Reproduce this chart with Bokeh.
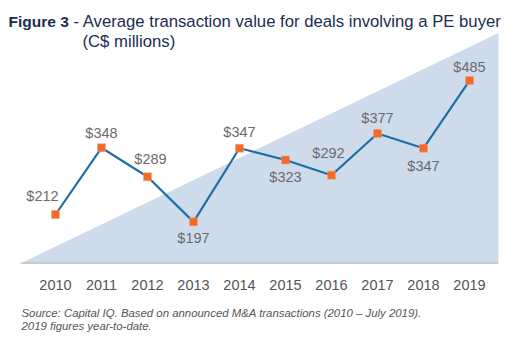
from bokeh.plotting import figure
from bokeh.models import Range1d, FixedTicker, Label, ColumnDataSource, Title
from bokeh.core.properties import value
from bokeh.embed import file_html
from bokeh.resources import INLINE

# ---- data ----
years = [2010, 2011, 2012, 2013, 2014, 2015, 2016, 2017, 2018, 2019]
avg_value = [212, 348, 289, 197, 347, 323, 292, 377, 347, 485]
tick_labels = ["2010", "2011", "2012", "2013", "2014", "2015", "2016", "2017", "2018", "2019"]
value_labels = ["$" + str(v) for v in avg_value]
# decorative background wedge corners (data space)
wedge_x = [2009.24, 2019.63, 2019.63]
wedge_y = [112.2, 582, 112.2]

# label placement (pixels, +dy = down)
label_dx = [-13, 0, 3, 0, 0, 0, -3, 0, 0, 0]
label_dy = [-19, -15, -18, 16, -16, 17, -22, -16, 18, -14]

# pixel <-> data calibration: frame spans the full width and top of canvas
W, H = 525, 351
FB = 263                      # frame bottom (axis line) in px
PX_PER_YEAR = 46.0
PX_PER_UNIT = 0.4908
X0 = 2010 - 55 / PX_PER_YEAR
X1 = X0 + W / PX_PER_YEAR
Y1 = 212 + 214 / PX_PER_UNIT
Y0 = Y1 - FB / PX_PER_UNIT

def dx(px):
    return X0 + px / PX_PER_YEAR

def dy(py):
    return Y1 - py / PX_PER_UNIT

p = figure(width=W, height=H, output_backend="svg", toolbar_location=None,
           x_range=Range1d(X0, X1), y_range=Range1d(Y0, Y1),
           min_border_left=0, min_border_right=0,
           min_border_top=0, min_border_bottom=H - FB)
p.outline_line_color = None
p.grid.visible = False
p.yaxis.visible = False
p.background_fill_color = "white"
p.border_fill_color = "white"

p.patch(wedge_x, wedge_y, fill_color="#cddbeb", line_color=None)
# baseline along the wedge's bottom edge
p.line([wedge_x[0], wedge_x[2]], [wedge_y[0], wedge_y[2]], line_color="#9a9a9a", line_width=1.3)

src = ColumnDataSource(dict(x=years, y=avg_value, lab=value_labels,
                            dxo=label_dx, dyo=label_dy))
p.line("x", "y", source=src, line_color="#1f6ea6", line_width=2.2)
p.scatter("x", "y", source=src, marker="square", size=8,
          fill_color="#f26a2a", line_color="#f7a072", line_width=0.5)
p.text("x", "y", text="lab", source=src, x_offset="dxo", y_offset="dyo",
       text_align="center", text_baseline="middle", text_font_size="14.5px",
       text_color="#6b6b6b", text_font=value("Liberation Sans"))

ax = p.xaxis[0]
ax.ticker = FixedTicker(ticks=years)
ax.major_label_overrides = {y: t for y, t in zip(years, tick_labels)}
ax.major_tick_line_color = None
ax.minor_tick_line_color = None
ax.axis_line_color = None
ax.major_label_standoff = 10
ax.major_label_text_font = "Liberation Sans"
ax.major_label_text_font_size = "14.5px"
ax.major_label_text_color = "#555555"

def add_text(px, py, txt, size, color, style="normal", baseline="alphabetic"):
    p.add_layout(Label(x=dx(px), y=dy(py), text=txt, text_font="Liberation Sans",
                       text_font_size=size, text_color=color, text_font_style=style,
                       text_baseline=baseline, text_align="left"))

add_text(8, 21, "Figure 3", "15.5px", "#1b2d4f", "bold")
add_text(73, 21, "- Average transaction value for deals involving a PE buyer", "16.7px", "#1b2d4f")
add_text(82, 41, "(C$ millions)", "16.7px", "#1b2d4f")

p.add_layout(Title(text="Source: Capital IQ. Based on announced M&A transactions (2010 \u2013 July 2019).\n"
                        "2019 figures year-to-date.",
                   align="left", offset=21, text_font="Liberation Sans",
                   text_font_size="11.4px", text_color="#555555", text_font_style="italic",
                   text_line_height=1.1, standoff=25), "below")

open("out.html", "w").write(file_html(p, INLINE))
